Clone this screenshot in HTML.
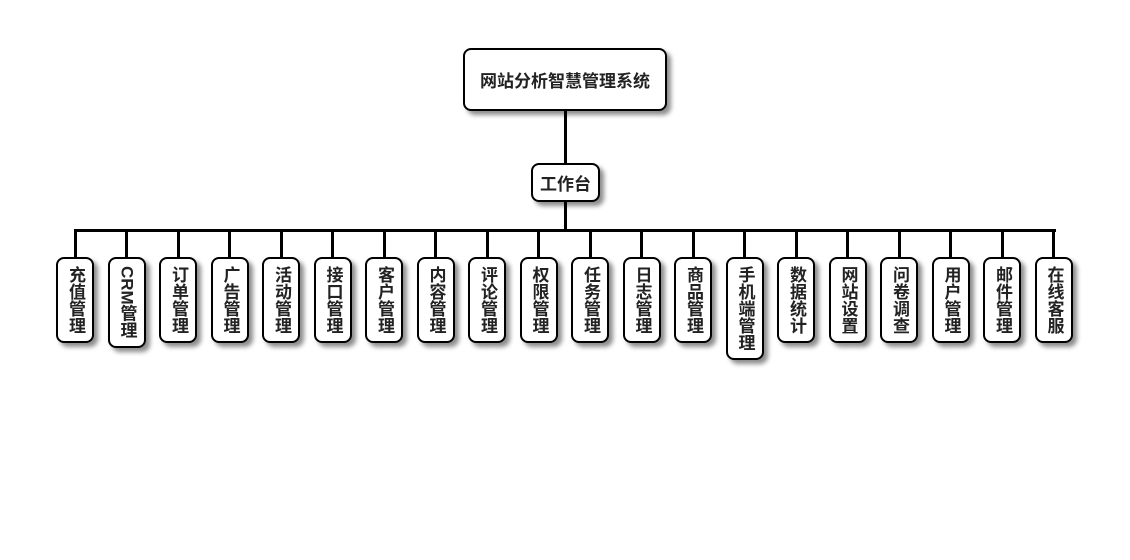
<!DOCTYPE html>
<html>
<head>
<meta charset="utf-8">
<style>
  html, body { margin:0; padding:0; }
  body { width:1130px; height:560px; background:#fff; position:relative; overflow:hidden;
         font-family:"Liberation Sans","Noto Sans CJK SC","WenQuanYi Zen Hei",sans-serif; }
  .box { position:absolute; background:#fff; border:2px solid #000; border-radius:8px;
         box-shadow:4px 4px 5px rgba(0,0,0,0.45); box-sizing:border-box; color:#222;
         font-weight:bold; font-size:17px; }
  .h { display:flex; align-items:center; justify-content:center; white-space:nowrap; }
  .v { width:38px; top:257px; padding:7px 0; display:flex; justify-content:center; }
  .v span { writing-mode:vertical-rl; text-orientation:mixed; line-height:20px; display:block; }
  .ln { position:absolute; background:#000; }
</style>
</head>
<body>
<!-- connectors -->
<div class="ln" style="left:563.5px;top:110px;width:3px;height:54px;"></div>
<div class="ln" style="left:563.5px;top:201px;width:3px;height:30px;"></div>
<div class="ln" style="left:73.5px;top:229px;width:982px;height:3px;"></div>

<div class="box h" style="left:463px;top:48px;width:204px;height:63px;">网站分析智慧管理系统</div>
<div class="box h" style="left:531px;top:163px;width:69px;height:39px;">工作台</div>

<div id="kids"></div>

<div class="ln" style="left:73.5px;top:229px;width:3px;height:29px;"></div>
<div class="ln" style="left:125px;top:229px;width:3px;height:29px;"></div>
<div class="ln" style="left:176.5px;top:229px;width:3px;height:29px;"></div>
<div class="ln" style="left:228px;top:229px;width:3px;height:29px;"></div>
<div class="ln" style="left:279.5px;top:229px;width:3px;height:29px;"></div>
<div class="ln" style="left:331px;top:229px;width:3px;height:29px;"></div>
<div class="ln" style="left:382.5px;top:229px;width:3px;height:29px;"></div>
<div class="ln" style="left:434px;top:229px;width:3px;height:29px;"></div>
<div class="ln" style="left:485.5px;top:229px;width:3px;height:29px;"></div>
<div class="ln" style="left:537px;top:229px;width:3px;height:29px;"></div>
<div class="ln" style="left:588.5px;top:229px;width:3px;height:29px;"></div>
<div class="ln" style="left:640px;top:229px;width:3px;height:29px;"></div>
<div class="ln" style="left:691.5px;top:229px;width:3px;height:29px;"></div>
<div class="ln" style="left:743px;top:229px;width:3px;height:29px;"></div>
<div class="ln" style="left:794.5px;top:229px;width:3px;height:29px;"></div>
<div class="ln" style="left:846px;top:229px;width:3px;height:29px;"></div>
<div class="ln" style="left:897.5px;top:229px;width:3px;height:29px;"></div>
<div class="ln" style="left:949px;top:229px;width:3px;height:29px;"></div>
<div class="ln" style="left:1000.5px;top:229px;width:3px;height:29px;"></div>
<div class="ln" style="left:1052px;top:229px;width:3px;height:29px;"></div>

<div class="box v" style="left:56px;"><span>充值管理</span></div>
<div class="box v" style="left:107.5px;"><span>CRM管理</span></div>
<div class="box v" style="left:159px;"><span>订单管理</span></div>
<div class="box v" style="left:210.5px;"><span>广告管理</span></div>
<div class="box v" style="left:262px;"><span>活动管理</span></div>
<div class="box v" style="left:313.5px;"><span>接口管理</span></div>
<div class="box v" style="left:365px;"><span>客户管理</span></div>
<div class="box v" style="left:416.5px;"><span>内容管理</span></div>
<div class="box v" style="left:468px;"><span>评论管理</span></div>
<div class="box v" style="left:519.5px;"><span>权限管理</span></div>
<div class="box v" style="left:571px;"><span>任务管理</span></div>
<div class="box v" style="left:622.5px;"><span>日志管理</span></div>
<div class="box v" style="left:674px;"><span>商品管理</span></div>
<div class="box v" style="left:725.5px;"><span>手机端管理</span></div>
<div class="box v" style="left:777px;"><span>数据统计</span></div>
<div class="box v" style="left:828.5px;"><span>网站设置</span></div>
<div class="box v" style="left:880px;"><span>问卷调查</span></div>
<div class="box v" style="left:931.5px;"><span>用户管理</span></div>
<div class="box v" style="left:983px;"><span>邮件管理</span></div>
<div class="box v" style="left:1034.5px;"><span>在线客服</span></div>
</body>
</html>
